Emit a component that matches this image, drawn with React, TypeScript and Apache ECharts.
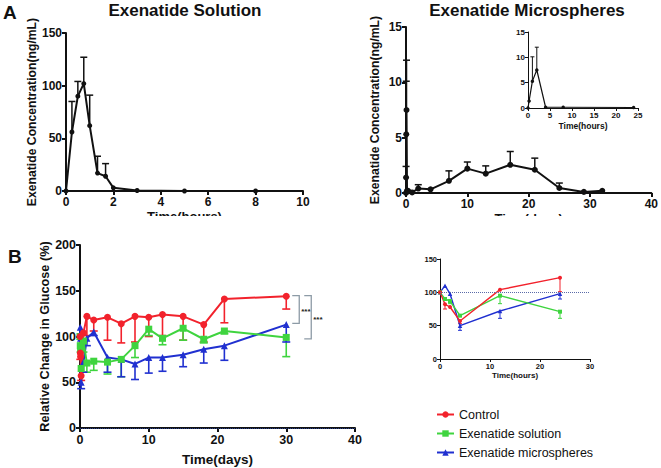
import React, { useEffect, useRef } from "react";
import * as echarts from "echarts";

// ---------- Panel A left: Exenatide Solution (hours) ----------
const solTime = [0, 0.25, 0.5, 0.75, 1, 1.33, 1.67, 2, 3, 5, 8];
const solConc = [0, 56, 90, 102, 62, 17, 14, 3, 0.5, 0, 0];
const solErrUp = [0, 29, 14, 25, 29, 16, 12, 0, 0, 0, 0];

// ---------- Panel A right: Exenatide Microspheres (days) ----------
const msTime = [0, 0.0104, 0.0417, 0.0833, 0.1667, 0.3333, 1, 2, 4, 7, 10, 13, 17, 21, 25, 29, 32];
const msConc = [0, 1.4, 5.3, 7.5, 0.2, 0.2, 0.05, 0.4, 0.33, 1.1, 2.2, 1.75, 2.55, 2.1, 0.45, 0.1, 0.2];
const msErrUp = [0, 1.0, 4.8, 4.5, 0, 0, 0, 0.35, 0, 0.9, 0.6, 0.7, 1.2, 1.05, 0.45, 0, 0];

// inset (hours)
const msHourTime = [0, 0.25, 1, 2, 4, 8, 24];
const msHourConc = [0, 1.4, 5.3, 7.5, 0.15, 0.15, 0.1];
const msHourErrUp = [0, 0, 4.8, 4.5, 0, 0, 0];

// ---------- Panel B: glucose (days) ----------
const gTime = [0, 1 / 24, 2 / 24, 4 / 24, 0.5, 1, 2, 4, 6, 8, 10, 12, 15, 18, 21, 30];
const ctrlVals = [100, 82, 78, 57, 104, 122, 118, 121, 114, 122, 121, 124, 122, 113, 141, 144];
const ctrlErrLow = [0, 7, 0, 5, 0, 21, 12, 25, 21, 28, 21, 23, 26, 19, 26, 14];
const solGVals = [100, 90, 87, 65, 95, 71, 73, 72, 75, 90, 108, 98, 109, 97, 106, 99];
const solGErrLow = [0, 0, 4, 0, 12, 10, 10, 13, 19, 13, 7, 7, 13, 4, 3, 21];
const msGVals = [100, 110, 98, 50, 72, 98, 105, 77, 75, 70, 77, 77, 80, 86, 90, 113];
const msGErrLow = [0, 0, 0, 7, 11, 8, 4, 16, 19, 17, 17, 15, 13, 15, 16, 19];

// inset (hours)
const gHourTime = [0, 1, 2, 4, 12, 24];
const ctrlHour = [100, 82, 78, 57, 104, 122];
const ctrlHourErr = [0, 7, 0, 4, 0, 21];
const solHour = [100, 90, 87, 65, 95, 71];
const solHourErr = [0, 0, 4, 0, 12, 10];
const msHour = [100, 110, 98, 50, 72, 98];
const msHourErr = [0, 0, 0, 7, 11, 8];

// significance brackets (x, top, bottom, slot)
const brackets = [
  [30, 144.6, 114.4, 0],
  [30, 144.6, 97.3, 1],
];

const seriesNames = ["Control", "Exenatide solution", "Exenatide microspheres"];
const RED = "#f2222c";
const GREEN = "#3fd43f";
const BLUE = "#2030d0";
const FONT = "Liberation Sans, Arial, Helvetica, sans-serif";

function pairs(xs: number[], ys: number[]) {
  return xs.map((x, i) => [x, ys[i]]);
}

function errSeries(
  xi: number,
  xs: number[],
  ys: number[],
  errs: number[],
  dir: number,
  color: string,
  cap: number,
  width: number
) {
  const data = xs
    .map((x, i) => [x, ys[i], ys[i] + dir * errs[i]])
    .filter((d, i) => errs[i] > 0);
  return {
    type: "custom",
    xAxisIndex: xi,
    yAxisIndex: xi,
    silent: true,
    z: 1,
    data,
    renderItem: (params: any, api: any) => {
      const p0 = api.coord([api.value(0), api.value(1)]);
      const p1 = api.coord([api.value(0), api.value(2)]);
      return {
        type: "group",
        children: [
          {
            type: "line",
            shape: { x1: p0[0], y1: p0[1], x2: p1[0], y2: p1[1] },
            style: { stroke: color, lineWidth: width },
          },
          {
            type: "line",
            shape: { x1: p1[0] - cap, y1: p1[1], x2: p1[0] + cap, y2: p1[1] },
            style: { stroke: color, lineWidth: width },
          },
        ],
      };
    },
  };
}

function xAxisDef(gi: number, max: number, interval: number, name: string, fs: number, lw: number, nameGap: number, nameFs: number) {
  return {
    gridIndex: gi,
    type: "value",
    min: 0,
    max,
    interval,
    name,
    nameLocation: "middle",
    nameGap,
    nameTextStyle: { fontFamily: FONT, fontWeight: "bold", fontSize: nameFs, color: "#111" },
    axisLine: { onZero: false, lineStyle: { color: "#111", width: lw } },
    axisTick: { show: true, length: lw > 1 ? 4 : 3, lineStyle: { color: "#111", width: lw } },
    axisLabel: { fontFamily: FONT, fontWeight: "bold", fontSize: fs, color: "#111", margin: lw > 1 ? 5 : 3 },
    splitLine: { show: false },
  };
}

function yAxisDef(gi: number, max: number, interval: number, name: string, fs: number, lw: number, nameGap: number, nameFs: number) {
  return {
    gridIndex: gi,
    type: "value",
    min: 0,
    max,
    interval,
    name,
    nameLocation: "middle",
    nameGap,
    nameTextStyle: { fontFamily: FONT, fontWeight: "bold", fontSize: nameFs, color: "#111" },
    axisLine: { show: true, onZero: false, lineStyle: { color: "#111", width: lw } },
    axisTick: { show: true, length: lw > 1 ? 4 : 3, lineStyle: { color: "#111", width: lw } },
    axisLabel: { fontFamily: FONT, fontWeight: "bold", fontSize: fs, color: "#111", margin: lw > 1 ? 4 : 3 },
    splitLine: { show: false },
  };
}

function lineSeries(name: string | undefined, gi: number, data: number[][], color: string, symbol: string, size: number, width: number, markLine?: any) {
  const s: any = {
    type: "line",
    name,
    xAxisIndex: gi,
    yAxisIndex: gi,
    data,
    symbol,
    symbolSize: size,
    showSymbol: true,
    lineStyle: { color, width },
    itemStyle: { color },
    z: 3,
  };
  if (markLine) s.markLine = markLine;
  return s;
}

export default function App() {
  const ref = useRef<HTMLDivElement>(null);
  useEffect(() => {
    if (!ref.current) return;
    const chart = echarts.init(ref.current, undefined, { renderer: "svg" });

    const bracketSeries = {
      type: "custom",
      xAxisIndex: 3,
      yAxisIndex: 3,
      silent: true,
      data: brackets,
      renderItem: (params: any, api: any) => {
        const pt = api.coord([api.value(0), api.value(1)]);
        const pb = api.coord([api.value(0), api.value(2)]);
        const k = api.value(3);
        const x0 = pt[0] + 6 + k * 12;
        const x1 = x0 + 7;
        const stroke = { stroke: "#8d9ba6", lineWidth: 1.3, fill: "none" };
        return {
          type: "group",
          children: [
            { type: "polyline", shape: { points: [[x0, pt[1]], [x1, pt[1]], [x1, pb[1]], [x0, pb[1]]] }, style: stroke },
            {
              type: "text",
              x: x1 + 2,
              y: (pt[1] + pb[1]) / 2 + 2,
              style: { text: "***", fill: "#222", font: "bold 8px " + FONT, textVerticalAlign: "middle" },
            },
          ],
        };
      },
    };

    const option: any = {
      animation: false,
      backgroundColor: "#fff",
      grid: [
        { left: 66, top: 33, width: 237, height: 158 },
        { left: 406, top: 27, width: 247, height: 166 },
        { left: 528, top: 32, width: 110, height: 76 },
        { left: 80, top: 245, width: 275, height: 183 },
        { left: 440, top: 259, width: 150, height: 100 },
      ],
      xAxis: [
        xAxisDef(0, 10, 2, "Time(hours)", 12, 2, 19, 13),
        xAxisDef(1, 40, 10, "Time(days)", 12, 2, 19, 13),
        xAxisDef(2, 25, 5, "Time(hours)", 8, 1, 13, 8.5),
        xAxisDef(3, 40, 10, "Time(days)", 12.5, 2, 24, 13.5),
        xAxisDef(4, 30, 10, "Time(hours)", 7.5, 1, 12, 8),
      ],
      yAxis: [
        yAxisDef(0, 150, 50, "Exenatide Concentration(ng/mL)", 12, 2, 23, 12.2),
        yAxisDef(1, 15, 5, "Exenatide Concentration(ng/mL)", 12, 2, 25, 12.2),
        yAxisDef(2, 15, 5, "", 8, 1, 10, 8),
        yAxisDef(3, 200, 50, "Relative Change in Glucose (%)", 12.5, 2, 27, 12.7),
        yAxisDef(4, 150, 50, "", 7.5, 1, 10, 8),
      ],
      legend: {
        data: seriesNames,
        orient: "vertical",
        left: 436,
        top: 407,
        height: 61,
        itemWidth: 17,
        itemHeight: 8,
        itemGap: 4,
        padding: 0,
        textStyle: { fontFamily: FONT, fontSize: 12.5, color: "#111", lineHeight: 15 },
        selectedMode: false,
      },
      graphic: [
        { type: "rect", shape: { x: 0, y: 216, width: 661, height: 18 }, style: { fill: "#fff" }, z: 100 },
        { type: "text", x: 3, y: 3, style: { text: "A", font: "bold 19px " + FONT, fill: "#111" }, z: 101 },
        { type: "text", x: 8, y: 247, style: { text: "B", font: "bold 19px " + FONT, fill: "#111" }, z: 101 },
        { type: "text", x: 185, y: 2, style: { text: "Exenatide Solution", font: "bold 17px " + FONT, fill: "#111", textAlign: "center" }, z: 101 },
        { type: "text", x: 527, y: 2, style: { text: "Exenatide Microspheres", font: "bold 17px " + FONT, fill: "#111", textAlign: "center" }, z: 101 },
      ],
      series: [
        // A left
        errSeries(0, solTime, solConc, solErrUp, 1, "#111", 3.5, 1.5),
        lineSeries(undefined, 0, pairs(solTime, solConc), "#111", "circle", 5, 2),
        // A right
        errSeries(1, msTime, msConc, msErrUp, 1, "#111", 3.5, 1.5),
        lineSeries(undefined, 1, pairs(msTime, msConc), "#111", "circle", 6, 2),
        // A inset
        errSeries(2, msHourTime, msHourConc, msHourErrUp, 1, "#111", 2, 1),
        lineSeries(undefined, 2, pairs(msHourTime, msHourConc), "#111", "circle", 3.5, 1.2),
        // B main
        errSeries(3, gTime, ctrlVals, ctrlErrLow, -1, RED, 4, 1.6),
        errSeries(3, gTime, solGVals, solGErrLow, -1, GREEN, 4, 1.6),
        errSeries(3, gTime, msGVals, msGErrLow, -1, BLUE, 4, 1.6),
        lineSeries(seriesNames[2], 3, pairs(gTime, msGVals), BLUE, "triangle", 7, 2, {
          silent: true,
          symbol: "none",
          label: { show: false },
          lineStyle: { color: "#223a8a", type: "dotted", width: 1 },
          data: [{ yAxis: 0 }],
        }),
        lineSeries(seriesNames[1], 3, pairs(gTime, solGVals), GREEN, "rect", 7, 2),
        lineSeries(seriesNames[0], 3, pairs(gTime, ctrlVals), RED, "circle", 7, 2),
        bracketSeries,
        // B inset
        errSeries(4, gHourTime, ctrlHour, ctrlHourErr, -1, RED, 2, 1),
        errSeries(4, gHourTime, solHour, solHourErr, -1, GREEN, 2, 1),
        errSeries(4, gHourTime, msHour, msHourErr, -1, BLUE, 2, 1),
        lineSeries(seriesNames[2], 4, pairs(gHourTime, msHour), BLUE, "triangle", 4.5, 1.4, {
          silent: true,
          symbol: "none",
          label: { show: false },
          lineStyle: { color: "#5a6aa8", type: "dotted", width: 1 },
          data: [{ yAxis: 100 }],
        }),
        lineSeries(seriesNames[1], 4, pairs(gHourTime, solHour), GREEN, "rect", 4, 1.4),
        lineSeries(seriesNames[0], 4, pairs(gHourTime, ctrlHour), RED, "circle", 4, 1.4),
      ],
    };
    chart.setOption(option);
    return () => chart.dispose();
  }, []);
  return (
    <div
      ref={ref}
      style={{ position: "fixed", left: 0, top: 0, width: 661, height: 468, background: "#fff" }}
    />
  );
}
